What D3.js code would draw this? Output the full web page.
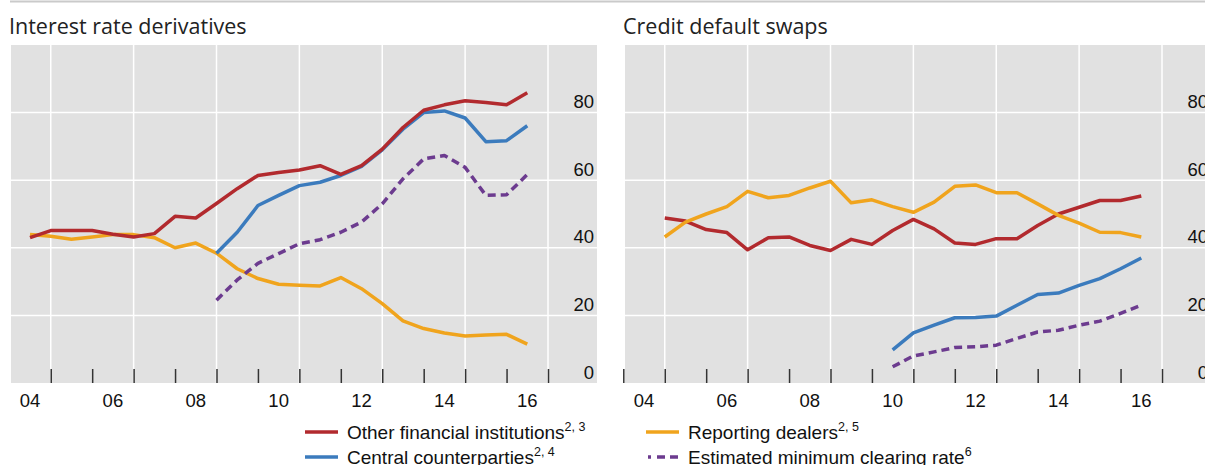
<!DOCTYPE html>
<html lang="en">

<head>
  <meta charset="UTF-8">
  <title>OTC derivatives clearing</title>
  <script src="https://d3js.org/d3.v7.min.js"></script>
  <style>
    body { margin: 0; background: #fff; }
    text { font-family: "Liberation Sans", Arial, sans-serif; fill: #111; }
    .title { font-family: "Open Sans", "Noto Sans", sans-serif; font-size: 21.5px; fill: #222; }
  </style>
</head>

<body>
  <svg id="chart" width="1205" height="465"></svg>

  <script>
    // half-year periods (end-June = .5, end-Dec = next .0)
    const irdPeriods = [2004.5, 2005.0, 2005.5, 2006.0, 2006.5, 2007.0, 2007.5, 2008.0, 2008.5, 2009.0,
      2009.5, 2010.0, 2010.5, 2011.0, 2011.5, 2012.0, 2012.5, 2013.0, 2013.5, 2014.0,
      2014.5, 2015.0, 2015.5, 2016.0, 2016.5];
    const irdOther = [43.0, 45.1, 45.1, 45.1, 44.0, 43.2, 44.2, 49.3, 48.8, 53.1,
      57.5, 61.4, 62.3, 63.0, 64.3, 61.7, 64.3, 69.2, 75.6, 80.7,
      82.3, 83.5, 83.0, 82.3, 85.9];
    const irdCcp = [null, null, null, null, null, null, null, null, null, 38.4,
      44.6, 52.5, 55.5, 58.4, 59.4, 61.4, 64.1, 69.0, 75.1, 80.0,
      80.5, 78.4, 71.4, 71.7, 76.1];
    const irdDealers = [43.9, 43.4, 42.5, 43.2, 43.9, 43.9, 43.0, 40.0, 41.4, 38.4,
      33.8, 30.9, 29.2, 28.9, 28.7, 31.2, 27.9, 23.5, 18.4, 16.1,
      14.8, 13.9, 14.2, 14.4, 11.5];
    const irdClearing = [null, null, null, null, null, null, null, null, null, 24.5,
      30.5, 35.4, 38.3, 41.2, 42.4, 44.6, 47.6, 53.0, 60.4, 66.3,
      67.3, 63.8, 55.5, 55.7, 61.7];

    const cdsPeriods = [2005.0, 2005.5, 2006.0, 2006.5, 2007.0, 2007.5, 2008.0, 2008.5, 2009.0,
      2009.5, 2010.0, 2010.5, 2011.0, 2011.5, 2012.0, 2012.5, 2013.0, 2013.5, 2014.0,
      2014.5, 2015.0, 2015.5, 2016.0, 2016.5];
    const cdsOther = [48.8, 47.9, 45.4, 44.5, 39.4, 43.0, 43.2, 40.7, 39.2,
      42.5, 41.0, 45.1, 48.4, 45.6, 41.4, 41.0, 42.7, 42.7, 46.6,
      50.0, 52.0, 54.0, 54.0, 55.3];
    const cdsCcp = [null, null, null, null, null, null, null, null, null,
      null, null, 9.8, 14.8, 17.1, 19.3, 19.4, 19.8, 23.0, 26.2,
      26.6, 28.9, 30.9, 33.8, 37.0];
    const cdsDealers = [43.2, 47.6, 50.0, 52.2, 56.7, 54.8, 55.5, 57.7, 59.7,
      53.3, 54.2, 52.2, 50.5, 53.5, 58.2, 58.6, 56.3, 56.3, 53.0,
      49.6, 47.3, 44.6, 44.5, 43.2];
    const cdsClearing = [null, null, null, null, null, null, null, null, null,
      null, null, 4.8, 8.0, 9.2, 10.5, 10.7, 11.2, 13.2, 15.1,
      15.6, 17.1, 18.3, 20.6, 23.0];

    const yTicks = [0, 20, 40, 60, 80];
    const yearLabels = ["04", "06", "08", "10", "12", "14", "16"];
    const yearLabelAt = [2004, 2006, 2008, 2010, 2012, 2014, 2016];
    const gridYears = [2005, 2007, 2009, 2011, 2013, 2015, 2017];

    const colors = { other: "#b22a2e", ccp: "#3b7bbd", dealers: "#f0a41d", clearing: "#6c3b8f" };

    const svg = d3.select("#chart");

    // thin rule on top of both panels
    svg.append("line")
      .attr("x1", 10).attr("x2", 1205)
      .attr("y1", 1.5).attr("y2", 1.5)
      .attr("stroke", "#cacaca").attr("stroke-width", 2);

    const y = d3.scaleLinear().domain([0, 100]).range([383, 45]);

    function drawPanel(offset, title, periods, series, tickYears) {
      const g = svg.append("g").attr("transform", "translate(" + offset + ",0)");
      const x = d3.scaleLinear().domain([2004, 2017]).range([9.3, 548]);

      g.append("text").attr("class", "title")
        .attr("x", 9).attr("y", 34)
        .text(title);

      g.append("rect")
        .attr("x", 11).attr("y", y(100))
        .attr("width", 586).attr("height", y(0) - y(100))
        .attr("fill", "#e1e1e1");

      // white grid
      g.selectAll(".hgrid").data(yTicks.slice(1)).join("line")
        .attr("class", "hgrid")
        .attr("x1", 11).attr("x2", 597)
        .attr("y1", d => y(d)).attr("y2", d => y(d))
        .attr("stroke", "#fff").attr("stroke-width", 1.5);
      g.selectAll(".vgrid").data(gridYears).join("line")
        .attr("class", "vgrid")
        .attr("x1", d => x(d)).attr("x2", d => x(d))
        .attr("y1", y(100)).attr("y2", y(0))
        .attr("stroke", "#fff").attr("stroke-width", 1.5);

      // year ticks
      const xAxis = d3.axisBottom(x).tickValues(tickYears).tickSize(-14).tickFormat("");
      const xg = g.append("g").attr("transform", "translate(0," + y(0) + ")").call(xAxis);
      xg.select(".domain").remove();
      xg.selectAll(".tick line").attr("stroke", "#333").attr("stroke-width", 1.5);

      g.selectAll(".ylab").data(yearLabelAt).join("text")
        .attr("class", "ylab")
        .attr("x", d => x(d + 0.5)).attr("y", 406.5)
        .attr("text-anchor", "middle")
        .style("font-size", "18.5px")
        .text((d, i) => yearLabels[i]);

      // value labels on the right
      const yAxis = d3.axisLeft(y).tickValues(yTicks).tickSize(0).tickPadding(0);
      const yg = g.append("g").attr("transform", "translate(594,0)").call(yAxis);
      yg.select(".domain").remove();
      yg.selectAll("text")
        .attr("dy", -5)
        .style("font-size", "18.5px")
        .style("font-family", "'Liberation Sans', Arial, sans-serif")
        .attr("fill", "#111");

      const line = d3.line()
        .defined(d => d[1] != null)
        .x(d => x(d[0]))
        .y(d => y(d[1]));

      series.forEach(s => {
        g.append("path")
          .datum(periods.map((p, i) => [p, s.values[i]]))
          .attr("d", line)
          .attr("fill", "none")
          .attr("stroke", s.color)
          .attr("stroke-width", 3.5)
          .attr("stroke-linejoin", "round")
          .attr("stroke-dasharray", s.dash ? "8,5" : null);
      });
    }

    drawPanel(0, "Interest rate derivatives", irdPeriods, [
      { values: irdDealers, color: colors.dealers },
      { values: irdClearing, color: colors.clearing, dash: true },
      { values: irdCcp, color: colors.ccp },
      { values: irdOther, color: colors.other }
    ], [2005, 2006, 2007, 2008, 2009, 2010, 2011, 2012, 2013, 2014, 2015, 2016, 2017]);

    drawPanel(614, "Credit default swaps", cdsPeriods, [
      { values: cdsClearing, color: colors.clearing, dash: true },
      { values: cdsCcp, color: colors.ccp },
      { values: cdsOther, color: colors.other },
      { values: cdsDealers, color: colors.dealers }
    ], [2004, 2005, 2006, 2007, 2008, 2009, 2010, 2011, 2012, 2013, 2014, 2015, 2016, 2017]);

    // legend
    const legendItems = [
      { x: 305, y: 432, label: "Other financial institutions", sup: "2, 3", color: colors.other },
      { x: 305, y: 457, label: "Central counterparties", sup: "2, 4", color: colors.ccp },
      { x: 646, y: 432, label: "Reporting dealers", sup: "2, 5", color: colors.dealers },
      { x: 646, y: 457, label: "Estimated minimum clearing rate", sup: "6", color: colors.clearing, dash: true }
    ];
    const leg = svg.selectAll(".leg").data(legendItems).join("g")
      .attr("class", "leg")
      .attr("transform", d => "translate(" + d.x + "," + d.y + ")");
    leg.append("line")
      .attr("x1", d => d.dash ? 2 : 0).attr("x2", 33)
      .attr("stroke", d => d.color).attr("stroke-width", 3.5)
      .attr("stroke-dasharray", d => d.dash ? "3,6,8,5,8" : null);
    const lt = leg.append("text")
      .attr("x", 42).attr("y", 6.5)
      .style("font-size", "19px");
    lt.append("tspan").text(d => d.label);
    lt.append("tspan").attr("dy", -8).style("font-size", "12.5px").text(d => d.sup);
  </script>

</body>

</html>
